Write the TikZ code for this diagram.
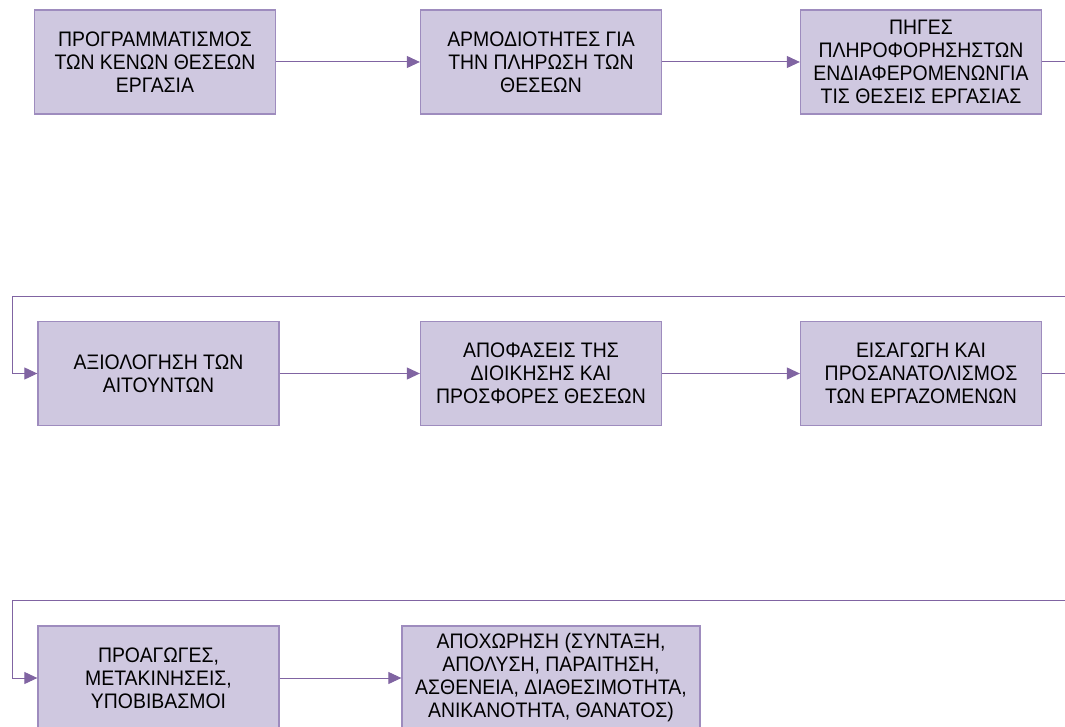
\documentclass[tikz,border=0pt]{standalone}
\usepackage{fontspec}
\setmainfont{Liberation Sans}[FakeStretch=0.925]
\usetikzlibrary{arrows.meta}
\definecolor{boxfill}{RGB}{207,200,224}
\definecolor{boxline}{RGB}{158,140,190}
\definecolor{flow}{RGB}{128,100,162}
\begin{document}
\begin{tikzpicture}[x=1pt,y=-1pt,
  stage/.style={draw=boxline, line width=1.3pt, fill=boxfill, minimum width=241pt,
    minimum height=104pt, inner sep=0pt, align=center,
    font=\fontsize{21}{23}\selectfont},
  wide/.style={stage, minimum width=298pt},
  flowline/.style={draw=flow, line width=1pt},
  flowarrow/.style={flowline, -{Triangle[length=13pt,width=12pt]}}]
\useasboundingbox (0,0) rectangle (1065,727);
\clip (0,0) rectangle (1065,727);
% first row
\node[stage] (b1) at (155,62) {ΠΡΟΓΡΑΜΜΑΤΙΣΜΟΣ\\ΤΩΝ ΚΕΝΩΝ ΘΕΣΕΩΝ\\ΕΡΓΑΣΙΑ};
\node[stage] (b2) at (541,62) {ΑΡΜΟΔΙΟΤΗΤΕΣ ΓΙΑ\\ΤΗΝ ΠΛΗΡΩΣΗ ΤΩΝ\\ΘΕΣΕΩΝ};
\node[stage] (b3) at (921,62) {ΠΗΓΕΣ\\ΠΛΗΡΟΦΟΡΗΣΗΣΤΩΝ\\ΕΝΔΙΑΦΕΡΟΜΕΝΩΝΓΙΑ\\ΤΙΣ ΘΕΣΕΙΣ ΕΡΓΑΣΙΑΣ};
% second row
\node[stage] (b4) at (158.5,373.5) {ΑΞΙΟΛΟΓΗΣΗ ΤΩΝ\\ΑΙΤΟΥΝΤΩΝ};
\node[stage] (b5) at (541,373.5) {ΑΠΟΦΑΣΕΙΣ ΤΗΣ\\ΔΙΟΙΚΗΣΗΣ ΚΑΙ\\ΠΡΟΣΦΟΡΕΣ ΘΕΣΕΩΝ};
\node[stage] (b6) at (921,373.5) {ΕΙΣΑΓΩΓΗ ΚΑΙ\\ΠΡΟΣΑΝΑΤΟΛΙΣΜΟΣ\\ΤΩΝ ΕΡΓΑΖΟΜΕΝΩΝ};
% third row
\node[stage] (b7) at (158.5,678) {ΠΡΟΑΓΩΓΕΣ,\\ΜΕΤΑΚΙΝΗΣΕΙΣ,\\ΥΠΟΒΙΒΑΣΜΟΙ};
\node[wide] (b8) at (551,678) {ΑΠΟΧΩΡΗΣΗ (ΣΥΝΤΑΞΗ,\\ΑΠΟΛΥΣΗ, ΠΑΡΑΙΤΗΣΗ,\\ΑΣΘΕΝΕΙΑ, ΔΙΑΘΕΣΙΜΟΤΗΤΑ,\\ΑΝΙΚΑΝΟΤΗΤΑ, ΘΑΝΑΤΟΣ)};
% connectors
\draw[flowarrow] (b1) -- (b2);
\draw[flowarrow] (b2) -- (b3);
\draw[flowarrow] (b3.east) -- ++(40,0) |- (12,296) |- (b4.west);
\draw[flowarrow] (b4) -- (b5);
\draw[flowarrow] (b5) -- (b6);
\draw[flowarrow] (b6.east) -- ++(40,0) |- (12,600) |- (b7.west);
\draw[flowarrow] (b7) -- (b8);
\end{tikzpicture}
\end{document}
